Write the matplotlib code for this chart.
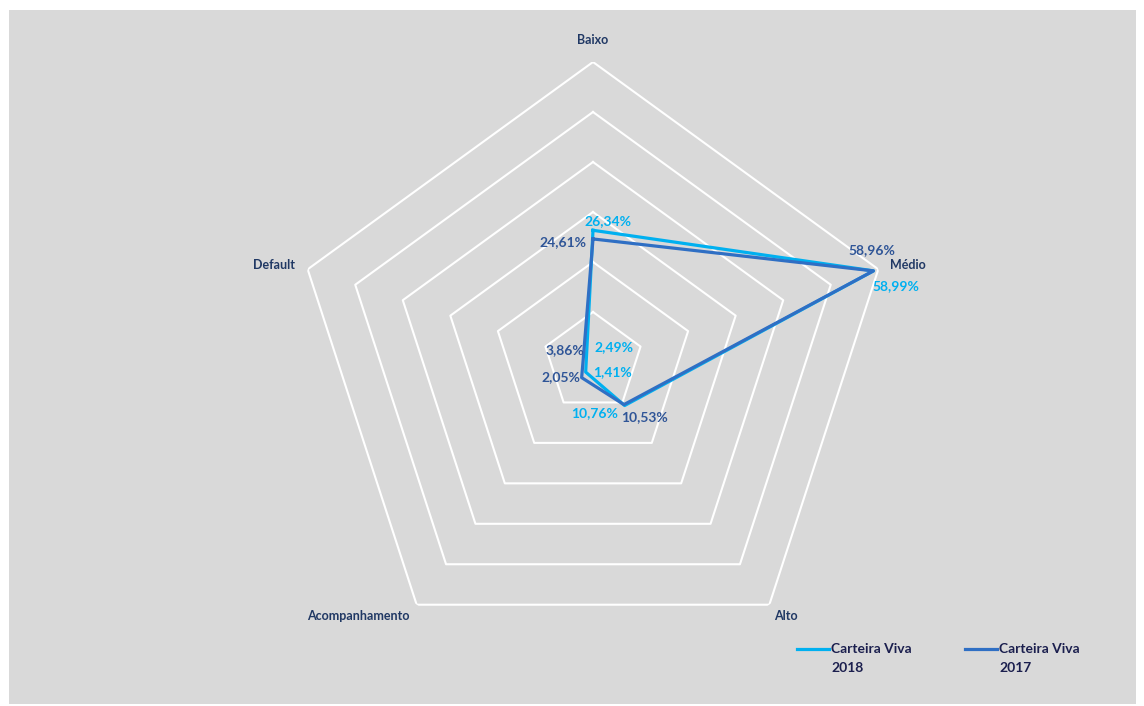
import numpy as np
import matplotlib
matplotlib.use('Agg')
import matplotlib.pyplot as plt
from matplotlib.patches import Rectangle
from matplotlib.lines import Line2D

# categories and values (percent)
categories = ['Baixo', 'Médio', 'Alto', 'Acompanhamento', 'Default']
vals_2018 = [26.34, 58.99, 10.76, 2.49, 1.41]
vals_2017 = [24.61, 58.96, 10.53, 3.86, 2.05]
labels_2018 = ['26,34%', '58,99%', '10,76%', '2,49%', '1,41%']
labels_2017 = ['24,61%', '58,96%', '10,53%', '3,86%', '2,05%']
series_names = ['Carteira Viva\n2018', 'Carteira Viva\n2017']
ring_levels = [10, 20, 30, 40, 50, 60]

c_light = '#00B0F0'
c_dark = '#2F6FC4'
c_dark_txt = '#2F5597'
c_cat = '#203864'
c_leg = '#1B1F4E'
font = ['Lato', 'DejaVu Sans']

plt.rcParams['font.family'] = font

fig = plt.figure(figsize=(11.44, 7.06), dpi=100)
fig.patch.set_facecolor('white')
# grey chart area
fig.add_artist(Rectangle((9/1144, 2/706), 1127/1144, 694/706,
                         transform=fig.transFigure, facecolor='#D9D9D9',
                         edgecolor='none', zorder=0))

#polar axes placed so centre is at (593, 362) px and r=60 -> 300 px
ax = fig.add_axes([(593-300)/1144, (344-300)/706, 600/1144, 600/706],
                  projection='polar')
ax.set_facecolor('none')
ax.set_theta_offset(np.pi/2)
ax.set_theta_direction(-1)
ax.set_ylim(0, 60)
ax.grid(False)
ax.spines['polar'].set_visible(False)
ax.set_xticks([])
ax.set_yticks([])

n = len(categories)
theta = np.arange(n) * 2*np.pi/n
theta_c = np.append(theta, theta[0])

#pentagon rings
for lev in ring_levels:
    ax.plot(theta_c, [lev]*(n+1), color='white', lw=1.5, zorder=1)

#data lines
ax.plot(theta_c, vals_2018 + vals_2018[:1], color=c_light, lw=2.3, zorder=3)
ax.plot(theta_c, vals_2017 + vals_2017[:1], color=c_dark, lw=2.3, zorder=4)

#data labels, offsets in pixels from the point
off_2018 = [(15, 9), (22, -15), (-30, -8), (28, 25), (26, -12)]
off_2017 = [(-30, -3), (-1, 21), (21, -12), (-17, 28), (-22, -18)]
for i in range(n):
    ax.annotate(labels_2018[i], (theta[i], vals_2018[i]), xytext=off_2018[i],
                textcoords='offset pixels', ha='center', va='center',
                fontsize=10, fontweight='bold', color=c_light, zorder=6)
    ax.annotate(labels_2017[i], (theta[i], vals_2017[i]), xytext=off_2017[i],
                textcoords='offset pixels', ha='center', va='center',
                fontsize=10, fontweight='bold', color=c_dark_txt, zorder=6)

#category labels
cat_off = [(0, 22), (12, 4), (17, -11), (-7, -11), (-13, 4)]
cat_ha = ['center', 'left', 'center', 'right', 'right']
for i in range(n):
    ax.annotate(categories[i], (theta[i], 60), xytext=cat_off[i],
                textcoords='offset pixels', ha=cat_ha[i], va='center',
                fontsize=9, fontweight='bold', color=c_cat)

#legend drawn by hand
leg_x = [797, 965]
leg_c = [c_light, c_dark]
for i in range(2):
    fig.add_artist(Line2D([leg_x[i]/1144, (leg_x[i]+32)/1144],
                          [1-649/706, 1-649/706], color=leg_c[i], lw=2.3,
                          transform=fig.transFigure))
    fig.text((leg_x[i]+34)/1144, 1-643/706, series_names[i], ha='left',
             va='top', fontsize=10, fontweight='bold', color=c_leg,
             linespacing=1.75)

fig.savefig('out.png', dpi=100)
